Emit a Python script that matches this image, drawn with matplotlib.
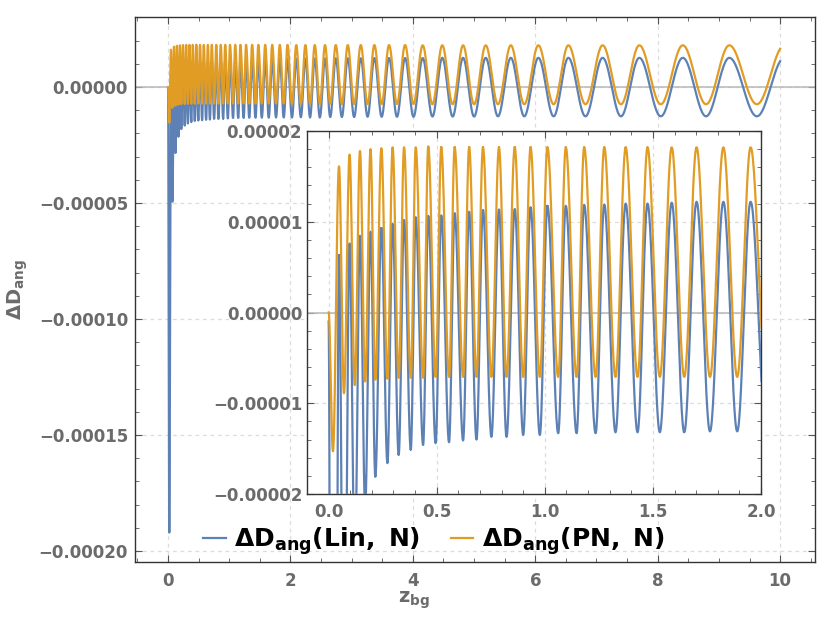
import numpy as np
import matplotlib
matplotlib.use("Agg")
import matplotlib.pyplot as plt
from matplotlib.ticker import MultipleLocator
from matplotlib.lines import Line2D

# ---------------- data ----------------
# values in units of 1e-5; both series reach their extrema at the same z
z_start = 0.0
z_end = 10.0
lin_start = -0.10
pn_start = 0.0

trough_z = [0.020, 0.071, 0.121, 0.169, 0.216, 0.272, 0.324, 0.380, 0.437, 0.495,
            0.557, 0.622, 0.684, 0.753, 0.823, 0.900, 0.977, 1.062, 1.147, 1.235,
            1.327, 1.429, 1.532, 1.645, 1.764, 1.890,
            2.025, 2.170, 2.320, 2.480, 2.650, 2.840, 3.040, 3.260, 3.490, 3.740,
            4.010, 4.320, 4.650, 5.000, 5.390, 5.820, 6.300, 6.820, 7.400, 8.050,
            8.790, 9.620]
peak_z = [0.048, 0.097, 0.145, 0.194, 0.244, 0.296, 0.349, 0.403, 0.461, 0.521,
          0.583, 0.650, 0.714, 0.788, 0.861, 0.934, 1.012, 1.097, 1.182, 1.275,
          1.374, 1.475, 1.587, 1.702, 1.826, 1.952,
          2.095, 2.244, 2.397, 2.565, 2.740, 2.936, 3.149, 3.371, 3.611, 3.873,
          4.160, 4.480, 4.820, 5.190, 5.600, 6.050, 6.540, 7.100, 7.700, 8.410,
          9.170, 10.070]

lin_trough = [-19.2, -4.94, -2.84, -2.14, -1.81, -1.66, -1.57, -1.51, -1.46, -1.44,
              -1.43, -1.41, -1.40, -1.37, -1.37, -1.35, -1.35, -1.33, -1.33, -1.33,
              -1.32, -1.32, -1.32, -1.32, -1.31, -1.31,
              -1.31, -1.30, -1.30, -1.30, -1.29, -1.29, -1.29, -1.28, -1.28, -1.28,
              -1.28, -1.27, -1.27, -1.27, -1.26, -1.26, -1.26, -1.26, -1.26, -1.26,
              -1.26, -1.26]
lin_peak = [0.635, 0.76, 0.845, 0.89, 0.93, 0.977, 1.02, 1.05, 1.065, 1.07,
            1.095, 1.11, 1.13, 1.135, 1.14, 1.16, 1.175, 1.175, 1.186, 1.19,
            1.20, 1.20, 1.21, 1.22, 1.22, 1.22,
            1.22, 1.23, 1.23, 1.23, 1.24, 1.24, 1.24, 1.25, 1.25, 1.25,
            1.25, 1.26, 1.26, 1.26, 1.26, 1.26, 1.26, 1.26, 1.26, 1.26,
            1.26, 1.26]
pn_trough = [-1.53, -0.89, -0.80, -0.76, -0.74, -0.73, -0.72, -0.72, -0.72, -0.71,
             -0.71, -0.71, -0.71, -0.71, -0.71, -0.71, -0.71, -0.71, -0.71, -0.71,
             -0.71, -0.71, -0.71, -0.71, -0.71, -0.71,
             -0.72, -0.72, -0.72, -0.72, -0.72, -0.73, -0.73, -0.73, -0.73, -0.73,
             -0.73, -0.74, -0.74, -0.74, -0.74, -0.74, -0.74, -0.74, -0.74, -0.74,
             -0.74, -0.74]
pn_peak = [1.61, 1.74, 1.78, 1.80, 1.81, 1.82, 1.82, 1.82, 1.83, 1.82,
           1.82, 1.82, 1.82, 1.82, 1.82, 1.82, 1.82, 1.82, 1.82, 1.82,
           1.82, 1.82, 1.82, 1.82, 1.82, 1.82,
           1.81, 1.81, 1.81, 1.81, 1.81, 1.81, 1.81, 1.81, 1.81, 1.81,
           1.80, 1.80, 1.80, 1.80, 1.80, 1.80, 1.80, 1.80, 1.80, 1.80,
           1.80, 1.80]

labels = [r"$\mathbf{\Delta D_{ang}(Lin,\ N)}$", r"$\mathbf{\Delta D_{ang}(PN,\ N)}$"]
main_xticks = [0, 2, 4, 6, 8, 10]
main_xticklabels = ["0", "2", "4", "6", "8", "10"]
main_yticks = [-0.0002, -0.00015, -0.0001, -0.00005, 0.0]
main_yticklabels = ["\u22120.00020", "\u22120.00015", "\u22120.00010", "\u22120.00005", "0.00000"]
ins_xticks = [0.0, 0.5, 1.0, 1.5, 2.0]
ins_xticklabels = ["0.0", "0.5", "1.0", "1.5", "2.0"]
ins_yticks = [-0.00002, -0.00001, 0.0, 0.00001, 0.00002]
ins_yticklabels = ["\u22120.00002", "\u22120.00001", "0.00000", "0.00001", "0.00002"]
scale = 1e-5

# ---------------- helpers ----------------
BLUE = "#5E81B5"
ORANGE = "#E19C24"
GRAY = "#6b6b6b"


def trace(v0, troughs, peaks):
    """smooth curve through the read extrema (half-cosine between neighbours)"""
    nz = [z_start]
    nv = [v0]
    for tz, tv, pz, pv in zip(trough_z, troughs, peak_z, peaks):
        nz += [tz, pz]
        nv += [tv, pv]
    zs, vs = [], []
    for i in range(len(nz) - 1):
        za, zb, va, vb = nz[i], nz[i + 1], nv[i], nv[i + 1]
        if za >= z_end:
            break
        tmax = min(1.0, (z_end - za) / (zb - za))
        t = np.linspace(0, tmax, 30)
        zs.append(za + (zb - za) * t)
        vs.append(va + (vb - va) * (1 - np.cos(np.pi * t)) / 2)
    return np.concatenate(zs), np.concatenate(vs) * scale


z_lin, v_lin = trace(lin_start, lin_trough, lin_peak)
z_pn, v_pn = trace(pn_start, pn_trough, pn_peak)

W, H = 830, 630
fig = plt.figure(figsize=(W / 100, H / 100), dpi=100)


def style(ax, xt, xtl, yt, ytl, xminor, yminor, xpad, ypad):
    ax.set_xticks(xt)
    ax.set_xticklabels(xtl, fontweight="bold")
    ax.set_yticks(yt)
    ax.set_yticklabels(ytl, fontweight="bold")
    ax.xaxis.set_minor_locator(MultipleLocator(xminor))
    ax.yaxis.set_minor_locator(MultipleLocator(yminor))
    ax.tick_params(which="both", direction="in", top=True, right=True,
                   color="#555555", labelcolor=GRAY, labelsize=12)
    ax.tick_params(which="major", length=5, width=0.8)
    ax.tick_params(which="minor", length=3, width=0.6)
    ax.tick_params(axis="x", pad=xpad)
    ax.tick_params(axis="y", pad=ypad)
    for s in ax.spines.values():
        s.set_color("#333333")
        s.set_linewidth(1.0)
    ax.grid(True, which="major", linestyle=(0, (3, 3)), color="#dcdcdc", linewidth=0.9)
    ax.set_axisbelow(True)
    ax.axhline(0, color="#b8b8b8", linewidth=1.1, zorder=1)


# main axes
ax = fig.add_axes([135 / W, (H - 562) / H, 680 / W, 545 / H])
ax.plot(z_lin, v_lin, color=BLUE, lw=1.6, zorder=3)
ax.plot(z_pn, v_pn, color=ORANGE, lw=1.6, zorder=4)
ax.set_xlim(-0.54, 10.57)
ax.set_ylim(-2.047e-4, 3.02e-5)
style(ax, main_xticks, main_xticklabels, main_yticks, main_yticklabels, 0.5, 1e-5, 7, 5)
ax.set_xlabel(r"$\mathbf{z_{bg}}$", fontsize=14, color=GRAY)
ax.xaxis.set_label_coords(0.41, -0.05)
ax.set_ylabel(r"$\mathbf{\Delta D_{ang}}$", fontsize=14, color=GRAY)
ax.yaxis.set_label_coords(-0.155, 0.50)

# inset
axi = fig.add_axes([307 / W, (H - 494) / H, 454 / W, 363 / H])
axi.set_facecolor("white")
axi.plot(z_lin, v_lin, color=BLUE, lw=1.6, zorder=3)
axi.plot(z_pn, v_pn, color=ORANGE, lw=1.6, zorder=4)
axi.set_xlim(-0.1, 2.0)
axi.set_ylim(-2e-5, 2e-5)
style(axi, ins_xticks, ins_xticklabels, ins_yticks, ins_yticklabels, 0.1, 2e-6, 6.5, 3.5)

handles = [Line2D([], [], color=BLUE, lw=1.6), Line2D([], [], color=ORANGE, lw=1.6)]
fig.legend(handles, labels, loc="center", bbox_to_anchor=(434 / W, 1 - 541 / H),
           ncol=2, frameon=False, fontsize=18, handlelength=0.9,
           handletextpad=0.35, columnspacing=1.2, labelcolor="black")

fig.savefig("out.png", dpi=100)
